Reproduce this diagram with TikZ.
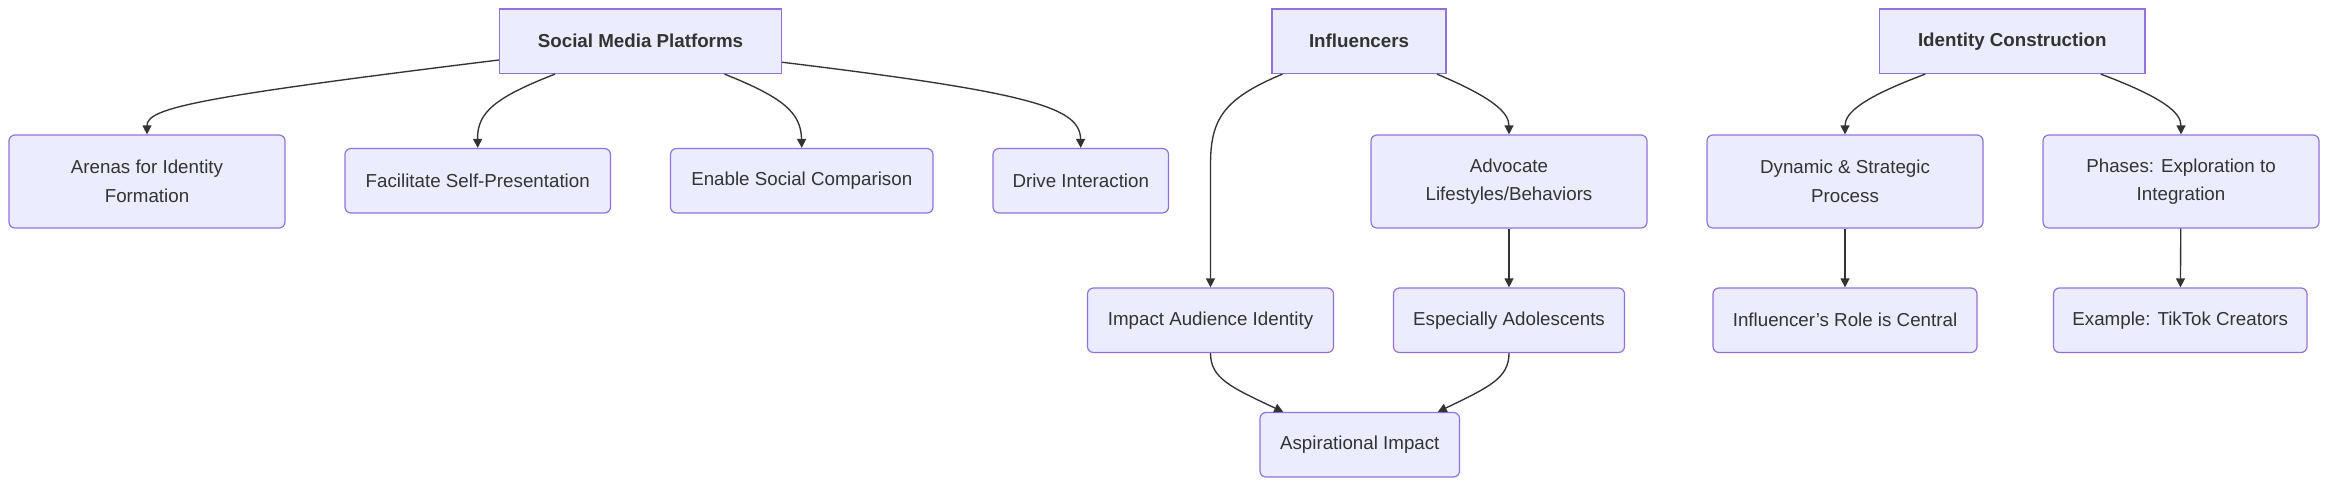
\documentclass[tikz,border=0pt]{standalone}
\usepackage{fontspec}
\setmainfont{Liberation Sans}
\usetikzlibrary{arrows.meta}
\definecolor{nfill}{HTML}{ECECFF}
\definecolor{nstroke}{HTML}{9370DB}
\definecolor{ecol}{HTML}{333333}
\begin{document}
\begin{tikzpicture}[x=1pt,y=1pt,
  base/.style={draw=nstroke,fill=nfill,line width=0.8pt,align=center,text=ecol,font=\fontsize{12.5}{19}\selectfont,inner sep=0pt},
  top/.style={base,font=\fontsize{12.5}{19}\selectfont\bfseries},
  leaf/.style={base,rounded corners=4pt},
  e/.style={draw=ecol,line width=0.9pt,-{Triangle[length=6pt,width=6pt]}}]
\useasboundingbox (0,0) rectangle (1568,-328);
\node[top,minimum width=188,minimum height=43] (smp) at (427,-27.5) {Social Media Platforms};
\node[top,minimum width=116,minimum height=43] (inf) at (906,-27.5) {Influencers};
\node[top,minimum width=177,minimum height=43] (idc) at (1341.5,-27.5) {Identity Construction};
\node[leaf,minimum width=184,minimum height=62] (are) at (98,-121) {Arenas for Identity\\Formation};
\node[leaf,minimum width=177,minimum height=43] (fac) at (318.5,-120.5) {Facilitate Self-Presentation};
\node[leaf,minimum width=175,minimum height=43] (ena) at (534.5,-120.5) {Enable Social Comparison};
\node[leaf,minimum width=117,minimum height=43] (dri) at (720.5,-120.5) {Drive Interaction};
\node[leaf,minimum width=184,minimum height=62] (adv) at (1006,-121) {Advocate\\Lifestyles/Behaviors};
\node[leaf,minimum width=184,minimum height=62] (dyn) at (1230,-121) {Dynamic \& Strategic\\Process};
\node[leaf,minimum width=184,minimum height=62] (pha) at (1454,-121) {Phases: Exploration to\\Integration};
\node[leaf,minimum width=164,minimum height=43] (imp) at (807,-213.5) {Impact Audience Identity};
\node[leaf,minimum width=154,minimum height=43] (esp) at (1006,-213.5) {Especially Adolescents};
\node[leaf,minimum width=176,minimum height=43] (rol) at (1230,-213.5) {Influencer's Role is Central};
\node[leaf,minimum width=169,minimum height=43] (exa) at (1453.5,-213.5) {Example: TikTok Creators};
\node[leaf,minimum width=133,minimum height=43] (asp) at (906.5,-296.5) {Aspirational Impact};

\draw[e] ([yshift=-12.5pt]smp.west) .. controls (130,-65) and (98,-72) .. (are.north);
\draw[e] ([xshift=-57pt]smp.south) .. controls (330,-65) and (318,-75) .. (fac.north);
\draw[e] ([xshift=56pt]smp.south) .. controls (522,-65) and (534,-75) .. (ena.north);
\draw[e] ([yshift=-14pt]smp.east) .. controls (690,-62) and (720,-72) .. (dri.north);
\draw[e] ([xshift=-51pt]inf.south) .. controls (815,-66) and (807,-80) .. (807,-110) -- (imp.north);
\draw[e] ([xshift=52pt]inf.south) .. controls (995,-65) and (1006,-75) .. (adv.north);
\draw[e] (adv) -- (esp);
\draw[e] ([xshift=-58pt]idc.south) .. controls (1242,-65) and (1230,-75) .. (dyn.north);
\draw[e] ([xshift=59pt]idc.south) .. controls (1442,-65) and (1454,-75) .. (pha.north);
\draw[e] (dyn) -- (rol);
\draw[e] (pha) -- (exa);
\draw[e] (imp.south) .. controls (807,-252) and (820,-258) .. ([xshift=-51pt]asp.north);
\draw[e] (esp.south) .. controls (1006,-252) and (993,-258) .. ([xshift=52pt]asp.north);
\end{tikzpicture}
\end{document}
